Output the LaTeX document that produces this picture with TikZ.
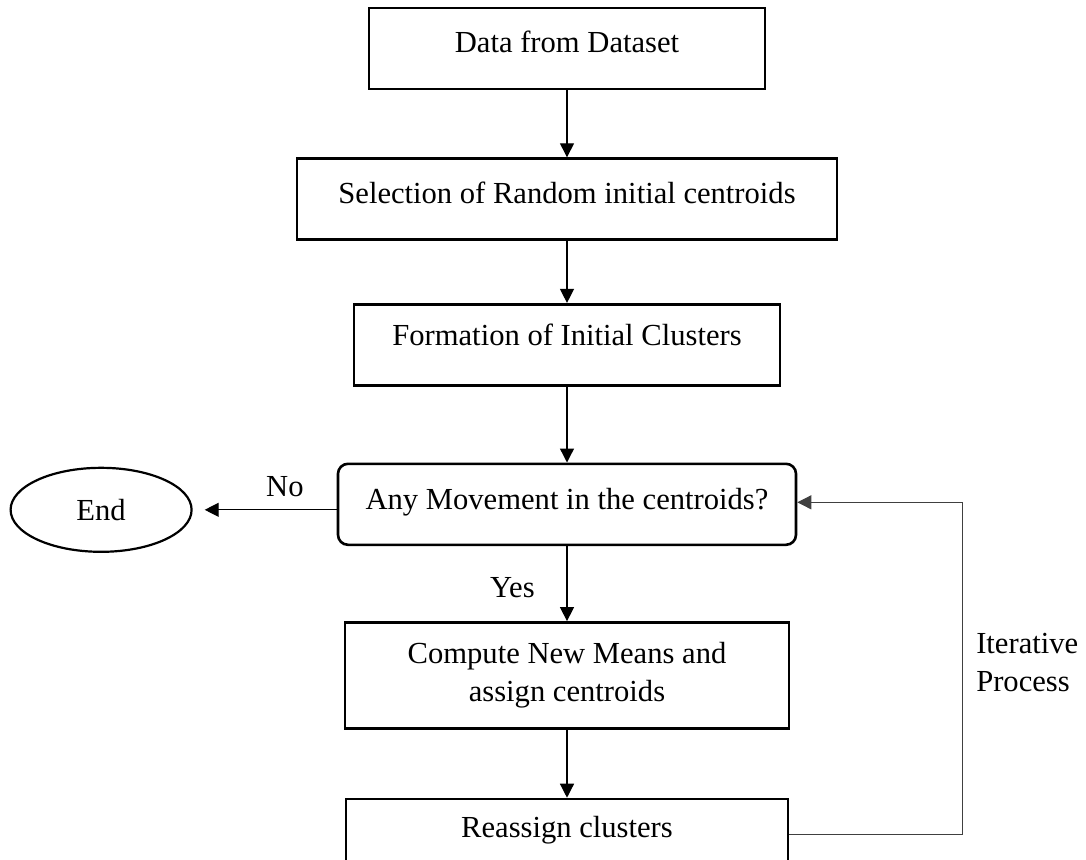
\documentclass[tikz,border=0pt]{standalone}
\usepackage{fontspec}
\setmainfont{Liberation Serif}
\usetikzlibrary{positioning}
\usetikzlibrary{arrows.meta}
\usetikzlibrary{shapes.geometric}

\begin{document}
\begin{tikzpicture}[x=0.5pt,y=-0.5pt,node distance=33.5pt,>={Triangle[length=7pt,width=7pt]},font=\fontsize{15.3}{19}\selectfont,stepbox/.style={draw,line width=1.3pt,align=center,inner sep=0pt},lift/.style={text depth=#1},flow/.style={->,line width=0.65pt}]
\useasboundingbox (0,0) rectangle (1086,859);
\node[stepbox,minimum width=198pt,minimum height=40.5pt,lift=6.5pt] (data) at (567,48.5) {Data from Dataset};
\node[stepbox,minimum width=270pt,minimum height=40.5pt,lift=6.5pt] (sel) [below=of data] {Selection of Random initial centroids};
\node[stepbox,minimum width=213pt,minimum height=40.5pt,lift=10pt] (init) [below=31pt of sel] {Formation of Initial Clusters};
\node[stepbox,rounded corners=5pt,minimum width=229pt,minimum height=40.5pt,lift=5.5pt] (move) [below=38pt of init] {Any Movement in the centroids?};
\node[stepbox,minimum width=222pt,minimum height=53pt,lift=4pt] (mean) [below=37.5pt of move] {Compute New Means and\\assign centroids};
\node[stepbox,minimum width=221pt,minimum height=31pt] (reas) [below=34pt of mean] {Reassign clusters};
\node[ellipse,draw,line width=1.1pt,inner sep=0pt,minimum width=90.5pt,minimum height=42pt] (end) [left=72pt of move,yshift=-2.75pt] {End};
\path[flow]
    (data) edge (sel)
    (sel) edge (init)
    (init) edge (move)
    (move) edge node[pos=0.55,left=12.5pt] {Yes} (mean)
    (mean) edge (reas)
;
\draw[flow,shorten >=6pt] (move.west |- end.east) -- node[pos=0.36,above=3pt] {No} (end.east);
\draw[->,line width=0.5pt,black!75] ([yshift=-2pt]reas.east) -- ++(86.5pt,0) |- node[pos=0.258,right=3.4pt,align=left,black] {Iterative\\Process} ([yshift=1pt]move.east);
\end{tikzpicture}
\end{document}
